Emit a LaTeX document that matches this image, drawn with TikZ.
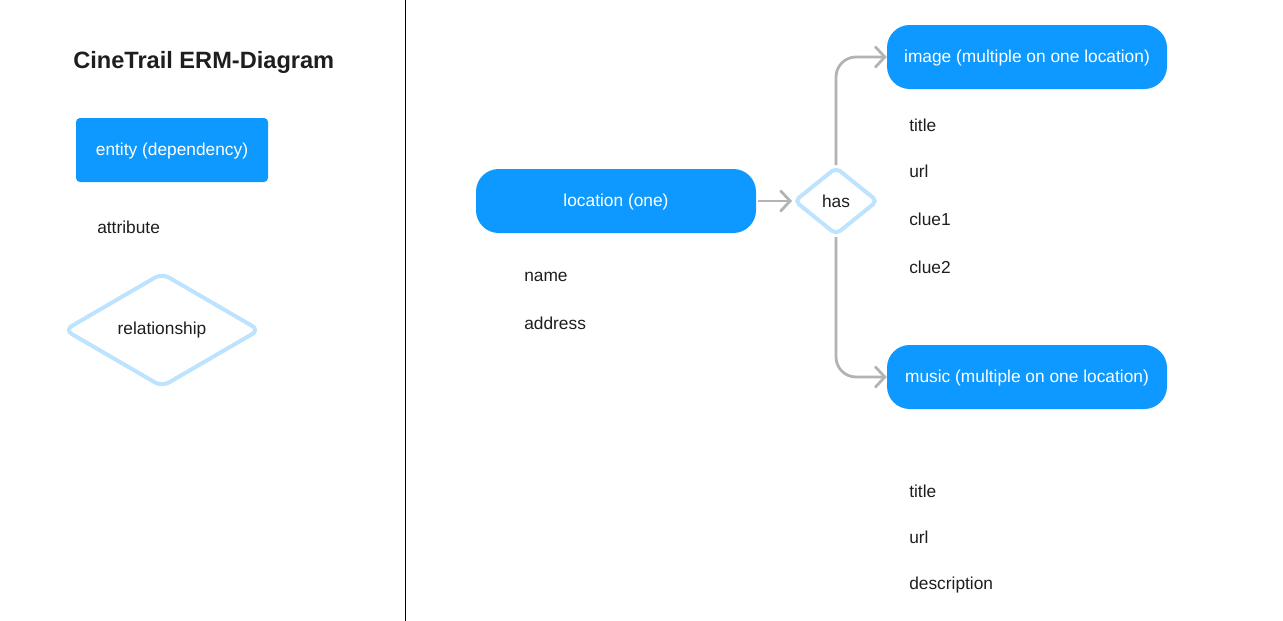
\documentclass[tikz,border=0pt]{standalone}
\usepackage{fontspec}
\setmainfont{Liberation Sans}
\usetikzlibrary{shapes.geometric, arrows.meta, positioning}

\definecolor{entblue}{HTML}{0D99FF}
\definecolor{relblue}{HTML}{BDE3FF}
\definecolor{arrgray}{HTML}{B3B3B3}
\definecolor{txtdark}{HTML}{1E1E1E}

\tikzset{
  label font/.style={font=\fontsize{13}{15}\selectfont},
  entity/.style={label font, fill=entblue, text=white, minimum height=48pt, inner sep=0pt, text depth=1.2pt},
  entitybox/.style={entity, rounded corners=17pt, minimum width=210pt},
  attr/.style={label font, text=txtdark, anchor=west, inner sep=0pt},
  relation/.style={label font, diamond, draw=relblue, line width=3pt, rounded corners=4pt, text=txtdark, inner sep=0pt},
  conn/.style={draw=arrgray, line width=2.1pt, rounded corners=15pt,
    -{Straight Barb[length=7pt, width=15pt, line cap=round]}}
}

\begin{document}
\begin{tikzpicture}[x=0.75pt, y=-0.75pt]
\useasboundingbox (0,0) rectangle (1283,621);
\draw[line width=0.75pt] (405,0) -- (405,621);

% legend
\node[anchor=west, inner sep=0pt, text=txtdark, font=\fontsize{17.7}{20}\selectfont\bfseries] (title) at (73,62) {CineTrail ERM-Diagram};
\node[entity, rounded corners=3pt, minimum width=144pt] (legEntity) at (172,150) {entity (dependency)};
\node[attr] (legAttr) at (97,227) {attribute};
\node[relation, minimum width=147pt, minimum height=86pt, rounded corners=6pt] (legRel) at (162,330) {relationship};

% entities
\node[entitybox] (location) at (616,201) {location (one)};
\node[entitybox] (image) at (1027,57) {image (multiple on one location)};
\node[entitybox] (music) at (1027,377) {music (multiple on one location)};
\node[relation, minimum width=63pt, minimum height=51pt] (has) at (836,201) {has};

% attributes
\node[attr] (locName) at (524,277) {name};
\node[attr] (locAddress) at (524,323) {address};

\node[attr] (imgTitle) at (909,125) {title};
\node[attr] (imgUrl) at (909,171) {url};
\node[attr] (imgClue1) at (909,219) {clue1};
\node[attr] (imgClue2) at (909,267) {clue2};

\node[attr] (musTitle) at (909,491) {title};
\node[attr] (musUrl) at (909,537) {url};
\node[attr] (musDescription) at (909,585) {description};

% connectors
\draw[conn] (location.east) ++(2,0) -- (has.west);
\draw[conn] (has.north) |- (image.west);
\draw[conn] (has.south) |- (music.west);
\end{tikzpicture}
\end{document}
